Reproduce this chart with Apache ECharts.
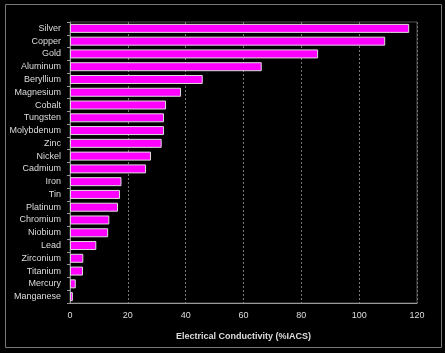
<!DOCTYPE html>
<html>
<head>
<meta charset="utf-8">
<script src="https://cdn.jsdelivr.net/npm/echarts@6/dist/echarts.min.js"></script>
<style>html,body{margin:0;padding:0;background:#000;}#chart{width:445px;height:353px;}</style>
</head>
<body>
<div id="chart"></div>
<script>
const metals = ["Silver","Copper","Gold","Aluminum","Beryllium","Magnesium","Cobalt","Tungsten","Molybdenum","Zinc","Nickel","Cadmium","Iron","Tin","Platinum","Chromium","Niobium","Lead","Zirconium","Titanium","Mercury","Manganese"];
const conductivity = [117.3,109,85.8,66.3,45.9,38.4,33.2,32.5,32.5,31.7,28,26.3,17.8,17.3,16.6,13.6,13.2,9.1,4.6,4.5,2.0,1.0];
const xTicks = [0,20,40,60,80,100,120];

const chart = echarts.init(document.getElementById('chart'));
chart.setOption({
  backgroundColor: '#000',
  animation: false,
  graphic: [{
    type: 'rect', shape: {x: 5.5, y: 4.5, width: 436, height: 343},
    style: {fill: 'none', stroke: '#777', lineWidth: 1}, silent: true
  }],
  grid: {left: 70, right: 28, top: 22, bottom: 50, show: true, borderColor: '#555', borderWidth: 1},
  xAxis: {
    type: 'value', min: xTicks[0], max: xTicks[xTicks.length-1], interval: 20,
    name: 'Electrical Conductivity (%IACS)', nameLocation: 'middle', nameGap: 29,
    nameTextStyle: {color: '#ddd', fontSize: 9, fontWeight: 'bold', fontFamily: 'Liberation Sans, Arial, sans-serif'},
    axisLine: {show: true, lineStyle: {color: '#999'}},
    axisTick: {show: false},
    axisLabel: {color: '#ddd', fontSize: 9, margin: 8, fontFamily: 'Liberation Sans, Arial, sans-serif'},
    splitLine: {show: true, lineStyle: {color: '#777', type: [2, 2]}}
  },
  yAxis: {
    type: 'category', data: metals, inverse: true,
    axisLine: {show: true, lineStyle: {color: '#999'}},
    axisTick: {show: true, length: 3, lineStyle: {color: '#999'}},
    axisLabel: {color: '#ddd', fontSize: 9, margin: 9, fontFamily: 'Liberation Sans, Arial, sans-serif'},
    splitLine: {show: false}
  },
  series: [{
    type: 'bar', data: conductivity, barWidth: 9,
    itemStyle: {color: '#ff00ff', borderColor: '#ddd', borderWidth: 1}
  }]
});
</script>
</body>
</html>
